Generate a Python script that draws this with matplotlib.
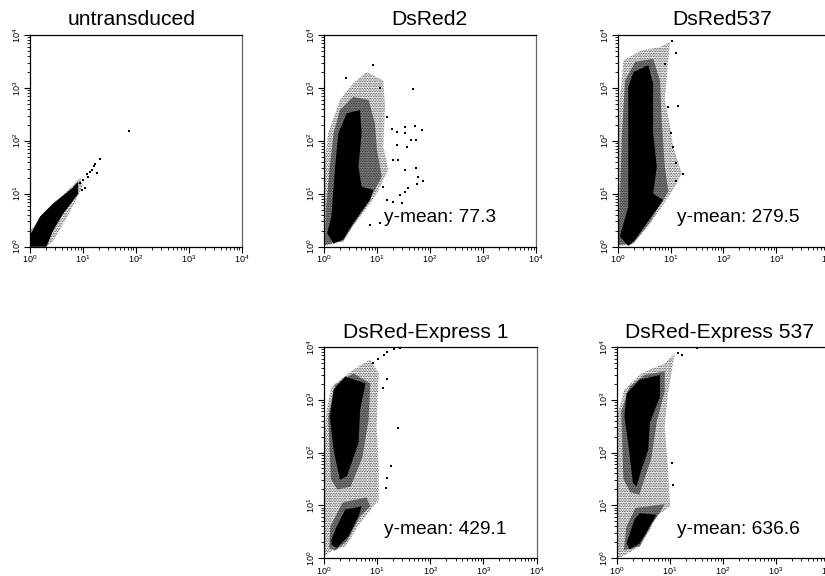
import numpy as np
import matplotlib
matplotlib.use('Agg')
import matplotlib.pyplot as plt
from matplotlib.ticker import LogLocator, NullFormatter

plt.rcParams['font.family'] = ['Liberation Sans', 'DejaVu Sans']
plt.rcParams['mathtext.fontset'] = 'custom'
plt.rcParams['mathtext.rm'] = 'Liberation Sans'
plt.rcParams['hatch.linewidth'] = 0.3

# all outlines are read off the picture, in log10 decades
# --- untransduced ---
p1_core_x = [0, 0, .19, .44, .79, .91, .91, .63, .44, .31]
p1_core_y = [0, .22, .57, .82, 1.1, 1.23, 1.0, .63, .31, 0]
p1_halo_x = [0, 0, .3, .6, .95, 1.0, .75, .42, .3]
p1_halo_y = [0, .3, .62, .95, 1.3, 1.15, .65, .08, 0]
p1_dots_x = [1.32, 1.23, 1.13, 1.08, 1.0, .94, 1.04, .98, 1.26, 1.1, 1.87, 1.17, 1.2, .89]
p1_dots_y = [1.65, 1.57, 1.42, 1.38, 1.26, 1.21, 1.1, 1.07, 1.4, 1.32, 2.18, 1.45, 1.53, 1.13]

# --- DsRed2 ---
p2_core_x = [.06, .14, .21, .27, .43, .68, .71, .65, .71, .93, .87, .55, .36, .18]
p2_core_y = [.25, .57, 1.51, 2.14, 2.52, 2.58, 2.14, 1.51, 1.13, 1.07, .88, .44, .13, .06]
p2_mid_x = [.02, .04, .11, .18, .3, .55, .84, .96, 1.0, 1.09, .96, .84, .55, .36]
p2_mid_y = [.03, .75, 1.51, 2.14, 2.58, 2.83, 2.77, 2.33, 1.82, 1.32, 1.07, .85, .41, .11]
p2_halo_x = [0, 0, .08, .3, .55, .8, 1.12, 1.15, 1.12, 1.21, 1.03, .9, .55, .36]
p2_halo_y = [.01, 1.51, 2.14, 2.77, 3.08, 3.3, 3.14, 2.64, 1.89, 1.45, 1.07, .85, .38, .09]
p2_dots_x = [.93, .42, 1.67, 1.53, 1.72, 1.84, 1.74, 1.65, 1.37, 1.56, 1.4, 1.31, 1.53, 1.74, 1.78, 1.87,
             1.75, 1.59, 1.53, 1.43, 1.18, 1.31, 1.47, .87, 1.06, 1.12, 1.28, 1.37, 1.53, 1.18, 1.06]
p2_dots_y = [3.43, 3.19, 2.97, 2.26, 2.28, 2.2, 2.01, 2.01, 1.92, 1.89, 1.64, 1.64, 1.45, 1.48, 1.32, 1.23,
             1.19, 1.1, 1.04, .97, .88, .85, .83, .41, .44, 1.13, 2.23, 2.17, 2.14, 2.45, 2.99]

# --- DsRed537 ---
p3_core_x = [.04, .2, .2, .2, .3, .58, .67, .67, .74, .67, .86, .64, .33, .2]
p3_core_y = [.19, .75, 2.14, 3.02, 3.3, 3.43, 3.08, 2.14, 1.51, 1.0, .88, .57, .13, .01]
p3_mid_x = [.01, .04, .08, .14, .33, .67, .8, .83, .89, .96, .84, .61, .3]
p3_mid_y = [.03, .88, 2.14, 3.14, 3.49, 3.55, 3.14, 2.45, 1.51, 1.04, .85, .47, .06]
p3_halo_x = [0, 0, .04, .11, .45, .8, .99, .89, .96, 1.05, 1.21, 1.05, .83, .58, .26]
p3_halo_y = [.01, 1.51, 2.77, 3.52, 3.71, 3.77, 3.87, 2.77, 2.45, 1.89, 1.38, 1.07, .75, .38, .03]
p3_dots_x = [1.03, 1.11, .96, 1.14, 1.0, 1.05, 1.23, 1.11, 1.11, .89]
p3_dots_y = [3.89, 3.66, 2.64, 2.65, 2.14, 1.89, 1.37, 1.23, 1.57, 3.46]

# --- DsRed-Express 1 ---
p4_upper_x = [.18, .4, .78, .68, .65, .43, .3, .18, .11]
p4_upper_y = [3.19, 3.44, 3.31, 2.81, 2.18, 1.55, 1.48, 2.05, 2.68]
p4_lower_x = [.14, .24, .4, .71, .65, .46, .24, .14]
p4_lower_y = [.35, .6, .92, .98, .79, .41, .19, .25]
p4_mid1_x = [.13, .08, .21, .55, .87, .84, .72, .5, .25]
p4_mid1_y = [1.5, 2.68, 3.28, 3.5, 3.31, 2.62, 1.9, 1.35, 1.3]
p4_mid2_x = [.1, .12, .35, .8, .87, .68, .43, .21]
p4_mid2_y = [.19, .6, 1.05, 1.15, .98, .79, .32, .14]
p4_halo_x = [0, 0, .05, .14, .55, .87, 1.03, .99, 1.03, 1.03, .68, .4, .14]
p4_halo_y = [.03, 2.18, 2.81, 3.25, 3.57, 3.76, 3.5, 2.49, 1.74, 1.1, .66, .22, .13]
p4_dots_x = [1.43, 1.31, 1.18, 1.12, 1.01, .93, 1.18, 1.4, 1.26, 1.18, 1.17, 1.11]
p4_dots_y = [3.98, 3.96, 3.91, 3.85, 3.77, 3.69, 3.39, 2.46, 1.75, 1.52, 1.33, 3.22]

# --- DsRed-Express 537 ---
p5_upper_x = [.18, .43, .81, .81, .62, .59, .46, .37, .3, .21, .14]
p5_upper_y = [3.12, 3.38, 3.47, 3.06, 2.56, 2.05, 1.67, 1.36, 1.42, 2.18, 2.68]
p5_lower_x = [.18, .33, .43, .74, .62, .43, .24]
p5_lower_y = [.28, .73, .85, .82, .6, .28, .16]
p5_mid1_x = [.12, .08, .24, .52, .9, .9, .75, .65, .42, .25]
p5_mid1_y = [1.5, 2.78, 3.25, 3.47, 3.54, 3.16, 2.59, 1.9, 1.2, 1.25]
p5_mid2_x = [.13, .18, .35, .9, .8, .65, .43]
p5_mid2_y = [.15, .6, .95, 1.02, .85, .63, .22]
p5_halo_x = [0, 0, .14, .46, .9, 1.09, .96, .9, .96, 1.0, .74, .59, .33, .11]
p5_halo_y = [0, 2.68, 3.19, 3.5, 3.69, 3.88, 3.12, 2.49, 1.74, .98, .79, .47, .16, .03]
p5_dots_x = [1.22, 1.15, 1.04, 1.06, 1.5]
p5_dots_y = [3.85, 3.88, 1.8, 1.39, 3.99]

titles = ['untransduced', 'DsRed2', 'DsRed537', 'DsRed-Express 1', 'DsRed-Express 537']
means = [None, 'y-mean: 77.3', 'y-mean: 279.5', 'y-mean: 429.1', 'y-mean: 636.6']

W, H = 825, 576
# left, right, top, bottom, title centre, title baseline, text left, text centre y
boxes = [(30, 241.7, 35, 246.7, 132, 25, 0, 0),
         (324, 536, 35, 246.5, 429, 25, 384, 218),
         (617.7, 829, 35, 246.5, 722, 25, 677, 218),
         (324, 536.5, 347, 558, 426, 338, 384, 530),
         (617, 829, 347, 558, 720, 338, 677, 530)]

panels = [([(p1_core_x, p1_core_y)], [], (p1_halo_x, p1_halo_y), (p1_dots_x, p1_dots_y)),
          ([(p2_core_x, p2_core_y)], [(p2_mid_x, p2_mid_y)], (p2_halo_x, p2_halo_y), (p2_dots_x, p2_dots_y)),
          ([(p3_core_x, p3_core_y)], [(p3_mid_x, p3_mid_y)], (p3_halo_x, p3_halo_y), (p3_dots_x, p3_dots_y)),
          ([(p4_upper_x, p4_upper_y), (p4_lower_x, p4_lower_y)], [(p4_mid1_x, p4_mid1_y), (p4_mid2_x, p4_mid2_y)],
           (p4_halo_x, p4_halo_y), (p4_dots_x, p4_dots_y)),
          ([(p5_upper_x, p5_upper_y), (p5_lower_x, p5_lower_y)], [(p5_mid1_x, p5_mid1_y), (p5_mid2_x, p5_mid2_y)],
           (p5_halo_x, p5_halo_y), (p5_dots_x, p5_dots_y))]

fig = plt.figure(figsize=(W / 100, H / 100), dpi=100)

for i, (cores, mids, halo, dots) in enumerate(panels):
    l, r, t, b, tx, ty, mx, my = boxes[i]
    ax = fig.add_axes([l / W, 1 - b / H, (r - l) / W, (b - t) / H])
    ax.set_xscale('log')
    ax.set_yscale('log')
    ax.set_xlim(1, 1e4)
    ax.set_ylim(1, 1e4)

    # speckled edge of the cloud, denser band, solid part, then loose events
    ax.fill(10 ** np.array(halo[0]), 10 ** np.array(halo[1]), facecolor='#e6e6e6',
            edgecolor='black', hatch='..........', linewidth=0)
    for mx_, my_ in mids:
        ax.fill(10 ** np.array(mx_), 10 ** np.array(my_), facecolor='#7a7a7a',
                edgecolor='black', hatch='..........', linewidth=0)
    for cx, cy in cores:
        ax.fill(10 ** np.array(cx), 10 ** np.array(cy), color='black', linewidth=0)
    ax.scatter(10 ** np.array(dots[0]), 10 ** np.array(dots[1]), s=0.7, marker='s',
               color='black', linewidths=0)

    for axis in (ax.xaxis, ax.yaxis):
        axis.set_major_locator(LogLocator(base=10, numticks=6))
        axis.set_minor_locator(LogLocator(base=10, subs=np.arange(2, 10), numticks=6))
        axis.set_minor_formatter(NullFormatter())
    ax.tick_params(which='major', length=4, width=0.8, labelsize=6.5, pad=1)
    ax.tick_params(which='minor', length=2, width=0.6)
    plt.setp(ax.get_yticklabels(), rotation=90, va='center')
    for s in ax.spines.values():
        s.set_linewidth(0.9)
    ax.spines['right'].set_color('#666666')

    fig.text(tx / W, 1 - ty / H, titles[i], ha='center', va='baseline', fontsize=15.2)
    if means[i]:
        fig.text(mx / W, 1 - my / H, means[i], ha='left', va='center', fontsize=13.8)

fig.savefig('out.png', dpi=100)
